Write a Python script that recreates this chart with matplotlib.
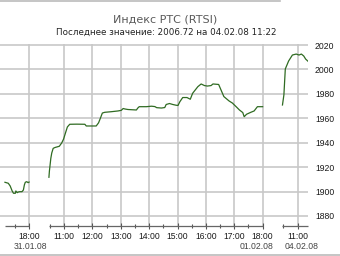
import numpy as np
import matplotlib.pyplot as plt
from matplotlib.lines import Line2D
import matplotlib.transforms as mtransforms

# Индекс РТС: три торговые сессии (время, значение)
dates = ['31.01.08', '01.02.08', '04.02.08']

times_1 = ['17:09', '17:16', '17:20', '17:24', '17:27', '17:31', '17:32', '17:35',
           '17:37', '17:40', '17:45', '17:48', '17:50', '17:52', '17:55', '17:58', '18:00']
values_1 = [1907.6, 1906.8, 1904.6, 1900.7, 1898.6, 1898.6, 1900.5, 1899.1,
            1899.6, 1899.9, 1899.9, 1901.3, 1905.4, 1907.6, 1908.1, 1907.3, 1907.8]

times_2 = ['10:28', '10:29', '10:32', '10:34', '10:37', '10:41', '10:50', '10:55', '10:59',
           '11:03', '11:07', '11:12', '11:27', '11:44', '11:47', '12:02', '12:08', '12:13',
           '12:17', '12:21', '12:26', '12:40', '12:54', '13:01', '13:05', '13:09', '13:15',
           '13:33', '13:36', '13:39', '13:54', '14:05', '14:12', '14:16', '14:26', '14:33',
           '14:36', '14:43', '14:50', '14:57', '15:01', '15:05', '15:11', '15:20', '15:27',
           '15:32', '15:43', '15:50', '15:57', '16:03', '16:11', '16:15', '16:27', '16:32',
           '16:38', '16:49', '16:56', '17:04', '17:11', '17:18', '17:21', '17:26', '17:35',
           '17:42', '17:49', '17:58', '18:00']
values_2 = [1911.7, 1916.8, 1927.2, 1931.6, 1935.4, 1936.1, 1937.1, 1939.8, 1943.0,
            1948.0, 1952.9, 1955.1, 1955.2, 1955.1, 1953.7, 1953.7, 1953.7, 1956.3,
            1960.2, 1964.3, 1964.9, 1965.4, 1966.0, 1966.5, 1968.0, 1967.6, 1967.2,
            1966.8, 1968.4, 1969.5, 1969.5, 1969.9, 1969.6, 1968.7, 1968.4, 1968.8,
            1971.3, 1972.1, 1971.3, 1970.7, 1970.5, 1973.6, 1977.0, 1977.0, 1975.6,
            1980.5, 1985.9, 1988.1, 1986.8, 1986.4, 1986.8, 1988.1, 1987.7, 1983.2,
            1977.8, 1974.2, 1972.5, 1969.5, 1966.8, 1964.7, 1961.3, 1963.3, 1964.9,
            1966.0, 1969.5, 1969.5, 1969.5]

times_3 = ['10:28', '10:31', '10:34', '10:41', '10:49', '10:57', '11:03', '11:08',
           '11:13', '11:17', '11:22']
values_3 = [1970.9, 1979.1, 2000.4, 2006.9, 2011.8, 2012.6, 2011.8, 2012.6,
            2011.0, 2008.5, 2006.72]

yticks = [1880, 1900, 1920, 1940, 1960, 1980, 2000, 2020]

sessions = [(times_1, values_1), (times_2, values_2), (times_3, values_3)]


def to_hours(t):
    h, m = t.split(':')
    return int(h) + int(m) / 60


gap = 0.7      # разрыв между сессиями (в часах)
lead = 0.175   # отступ слева
date_shift = [1, -6, 4]  # сдвиг подписи даты, px

fig = plt.figure(figsize=(3.4, 2.56), dpi=100)
ax = fig.add_axes([0, 1 - 226 / 256, 308 / 340, (226 - 43.8) / 256])

line_color = '#2f6b22'
grid_color = '#c8c8c8'

start = lead
major_pos, major_lab, minor_pos = [], [], []
date_pos = []
for times, vals in sessions:
    hrs = np.array([to_hours(t) for t in times])
    x = start + hrs - hrs[0]
    ax.plot(x, vals, color=line_color, lw=0.9, solid_joinstyle='round')
    ax.hlines(1871.8, x[0], x[-1], color='#666666', lw=0.9, clip_on=False)
    for h in range(int(np.ceil(hrs[0])), int(np.floor(hrs[-1])) + 1):
        major_pos.append(start + h - hrs[0])
        major_lab.append('%02d:00' % h)
    for h in np.arange(np.ceil(hrs[0] * 2) / 2, hrs[-1], 0.5):
        if h % 1:
            minor_pos.append(start + h - hrs[0])
    date_pos.append(major_pos[-1])
    start = x[-1] + gap

ax.set_xlim(0, start - gap)
ax.set_ylim(1871.8, 2021)

ax.set_xticks(major_pos)
ax.set_xticklabels(major_lab)
ax.set_xticks(minor_pos, minor=True)
ax.set_yticks(yticks)
ax.yaxis.tick_right()

ax.grid(True, which='major', color=grid_color, lw=1.2)
ax.set_axisbelow(True)
for s in ax.spines.values():
    s.set_visible(False)

ax.tick_params(axis='x', which='major', direction='inout', length=5, width=0.8,
               color='#555555', pad=2, labelsize=6.2, labelcolor='#1a1a1a')
ax.tick_params(axis='x', which='minor', direction='inout', length=3.5, width=0.8,
               color='#555555')
ax.tick_params(axis='y', length=0, pad=5, labelsize=6.2, labelcolor='#1a1a1a')
for lab in ax.get_xticklabels() + ax.get_yticklabels():
    lab.set_family('Liberation Sans')

for d, p, dx in zip(dates, date_pos, date_shift):
    trans = mtransforms.blended_transform_factory(ax.transData, ax.transAxes) + \
        mtransforms.ScaledTranslation(dx / 100, 0, fig.dpi_scale_trans)
    ax.text(p, -0.115, d, transform=trans, ha='center', va='center',
            fontsize=6.2, family='Liberation Sans', color='#444444')

fig.text(165 / 340, 1 - 20 / 256, 'Индекс РТС (RTSI)', ha='center', va='center',
         fontsize=8, color='#5a5a5a', family='DejaVu Sans')
fig.text(166 / 340, 1 - 32 / 256, 'Последнее значение: 2006.72 на 04.02.08 11:22',
         ha='center', va='center', fontsize=6.3, color='#222222', family='DejaVu Sans')

fig.add_artist(Line2D([0, 280 / 340], [1 - 1 / 256, 1 - 1 / 256], color='#bbbbbb', lw=1.2))
fig.add_artist(Line2D([0, 1], [1 / 256, 1 / 256], color='#bbbbbb', lw=1.2))

fig.savefig('out.png', dpi=100)
